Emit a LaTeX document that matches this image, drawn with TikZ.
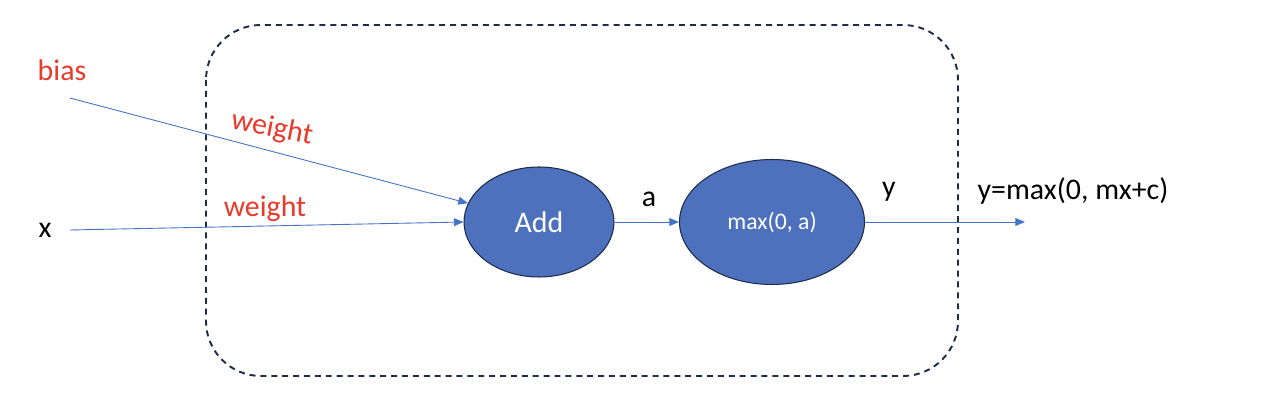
\documentclass[tikz,border=0pt]{standalone}
\usepackage{fontspec}
\setmainfont{Carlito}
\usetikzlibrary{arrows.meta,shapes.geometric}
\definecolor{opblue}{HTML}{4E71BE}
\definecolor{linkblue}{HTML}{4472C4}
\definecolor{boxnavy}{HTML}{1F2B4A}
\definecolor{wred}{HTML}{E8392B}

\begin{document}
\begin{tikzpicture}[x=0.02cm,y=-0.02cm,>={Triangle[length=5.5pt,width=4.5pt]},
  op/.style={ellipse,draw=boxnavy,fill=opblue,line width=0.6pt,text=white,inner sep=0pt},
  link/.style={->,linkblue,line width=0.5pt},
  lab/.style={font=\fontsize{17}{20}\selectfont},
  wlab/.style={lab,wred}]
\useasboundingbox (0,0) rectangle (1278,404);
% dashed frame round the neuron
\draw[boxnavy,line width=1.1pt,dash pattern=on 3.4pt off 2.8pt,rounded corners=1.1cm]
  (206,25) rectangle (958,376);
% operations
\node[op,minimum width=3cm,minimum height=2.2cm,font=\fontsize{17}{20}\selectfont] (add) at (539,222) {Add};
\node[op,minimum width=3.7cm,minimum height=2.5cm,font=\fontsize{13.5}{16}\selectfont] (relu) at (772,222) {max(0, a)};
% inputs
\node[wlab] (bias) at (62,70) {bias};
\node[lab] (x) at (45,230) {x};
\coordinate (bstart) at (70,98);
\coordinate (xstart) at (70,230);
\coordinate (yend) at (1025,222);
\draw[link] (bstart) -- (add);
\draw[link] (xstart) -- (add.west);
\node[wlab,rotate=-11] (w1) at (272,129) {weight};
\node[wlab] (w2) at (265,209) {weight};
% output
\draw[link] (add) -- (relu);
\node[lab] (a) at (649,199) {a};
\draw[link] (relu) -- (yend);
\node[lab] (y) at (889,192) {y};
\node[lab] (yfn) at (1073,191) {y=max(0, mx+c)};
\end{tikzpicture}
\end{document}
